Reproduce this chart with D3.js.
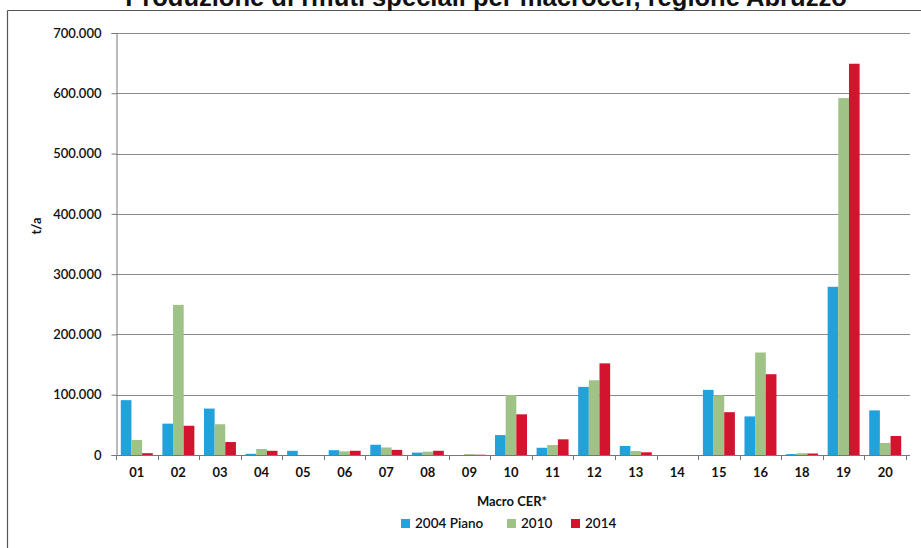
<!DOCTYPE html>
<html>
<head>
<meta charset="utf-8">
<script src="https://cdn.jsdelivr.net/npm/d3@7/dist/d3.min.js"></script>
<style>
  html, body { margin: 0; padding: 0; background: #fff; }
  svg { display: block; }
  text { font-family: Lato, "Open Sans", sans-serif; fill: #111; }
</style>
</head>
<body>
<svg id="chart" width="921" height="548"></svg>
<script>
const title = "Produzione di rifiuti speciali per macrocer, regione Abruzzo";
const categories = ["01","02","03","04","05","06","07","08","09","10","11","12","13","14","15","16","18","19","20"];
const seriesNames = ["2004 Piano", "2010", "2014"];
const seriesColors = ["#22a2da", "#9fc287", "#d2142e"];
const values2004 = [91000, 52000, 77000, 2000, 7000, 8000, 17000, 4000, 0, 33000, 12000, 113000, 15000, 0, 108000, 64000, 1500, 279000, 74000];
const values2010 = [25000, 249000, 51000, 10000, 0, 6000, 12500, 5500, 1500, 99500, 16500, 124000, 6500, 0, 99000, 170000, 3000, 592000, 20000];
const values2014 = [3000, 48500, 21500, 7000, 0, 7000, 8500, 7000, 500, 67500, 26000, 152000, 4500, 0, 71000, 134000, 2500, 649000, 31500];
const yTicks = [0, 100000, 200000, 300000, 400000, 500000, 600000, 700000];
const yTitle = "t/a";
const xTitle = "Macro CER*";

const series = [values2004, values2010, values2014];

const svg = d3.select("#chart");
const m = { left: 116, right: 906, top: 33, bottom: 455 };

// Frame
svg.append("line").attr("x1", 7.5).attr("x2", 921).attr("y1", 10.5).attr("y2", 10.5)
  .attr("stroke", "#555").attr("stroke-width", 1.2);
svg.append("line").attr("x1", 7.5).attr("x2", 7.5).attr("y1", 10.5).attr("y2", 548)
  .attr("stroke", "#555").attr("stroke-width", 1.2);

// Title (partially cut off at top, as in the reference)
const t = svg.append("text").attr("x", 486).attr("y", 6)
  .attr("text-anchor", "middle")
  .style("font-family", "'Liberation Sans', Arial, sans-serif")
  .style("font-weight", "bold").style("font-size", "22px")
  .text(title);
const tl = t.node().getComputedTextLength();
if (tl > 0) t.style("font-size", (22 * 722 / tl) + "px");

const x0 = d3.scaleBand().domain(categories).range([m.left, m.right]).paddingInner(0).paddingOuter(0);
const x1 = d3.scaleBand().domain(d3.range(series.length)).range([0, x0.bandwidth()]).paddingInner(0).paddingOuter(0.45);
const y = d3.scaleLinear().domain([0, 700000]).range([m.bottom, m.top]);

// Gridlines
svg.append("g").selectAll("line").data(yTicks.filter(d => d > 0)).join("line")
  .attr("x1", m.left).attr("x2", 910)
  .attr("y1", d => Math.round(y(d)) + 0.5).attr("y2", d => Math.round(y(d)) + 0.5)
  .attr("stroke", "#8a8a8a").attr("stroke-width", 1);

// Bars
const g = svg.append("g");
categories.forEach((c, i) => {
  series.forEach((s, k) => {
    const v = s[i];
    if (v <= 0) return;
    g.append("rect")
      .attr("x", x0(c) + x1(k))
      .attr("y", y(v))
      .attr("width", x1.bandwidth())
      .attr("height", y(0) - y(v))
      .attr("fill", seriesColors[k]);
  });
});

// Y axis
const yAxis = d3.axisLeft(y).tickValues(yTicks)
  .tickFormat(d => d3.format(",")(d).replace(/,/g, "."))
  .tickSize(5).tickPadding(10);
const ya = svg.append("g").attr("transform", `translate(${m.left + 0.5},0)`).call(yAxis);
ya.select(".domain").attr("stroke", "#777");
ya.selectAll(".tick line").attr("stroke", "#777");
ya.selectAll("text").style("font-size", "13px").style("font-family", "Lato, sans-serif").style("font-weight", "600").attr("fill", "#222");

// X axis
const xa = svg.append("g").attr("transform", `translate(0,${m.bottom + 0.5})`)
  .call(d3.axisBottom(x0).tickSize(0).tickPadding(12));
xa.select(".domain").attr("stroke", "#777").attr("d", `M${m.left},0H910`);
xa.selectAll("text").style("font-size", "13px").style("font-weight", "bold").attr("fill", "#222");
// tick marks between categories
svg.append("g").selectAll("line").data(categories.concat(["end"])).join("line")
  .attr("x1", (d, i) => Math.round(m.left + i * x0.step()) + 0.5)
  .attr("x2", (d, i) => Math.round(m.left + i * x0.step()) + 0.5)
  .attr("y1", m.bottom).attr("y2", m.bottom + 5)
  .attr("stroke", "#777");

// Axis titles
svg.append("text").attr("transform", "translate(41,226) rotate(-90)")
  .attr("text-anchor", "middle").style("font-size", "13px").style("font-weight", "bold")
  .text(yTitle);
svg.append("text").attr("x", 512).attr("y", 506).attr("text-anchor", "middle")
  .style("font-size", "13px").style("font-weight", "bold").text(xTitle);

// Legend
const legendX = [401, 507, 571];
const lg = svg.append("g");
seriesNames.forEach((n, k) => {
  lg.append("rect").attr("x", legendX[k]).attr("y", 519).attr("width", 9).attr("height", 9)
    .attr("fill", seriesColors[k]);
  lg.append("text").attr("x", legendX[k] + 14).attr("y", 528)
    .style("font-size", "13.5px").style("font-weight", "600").text(n);
});
</script>
</body>
</html>
